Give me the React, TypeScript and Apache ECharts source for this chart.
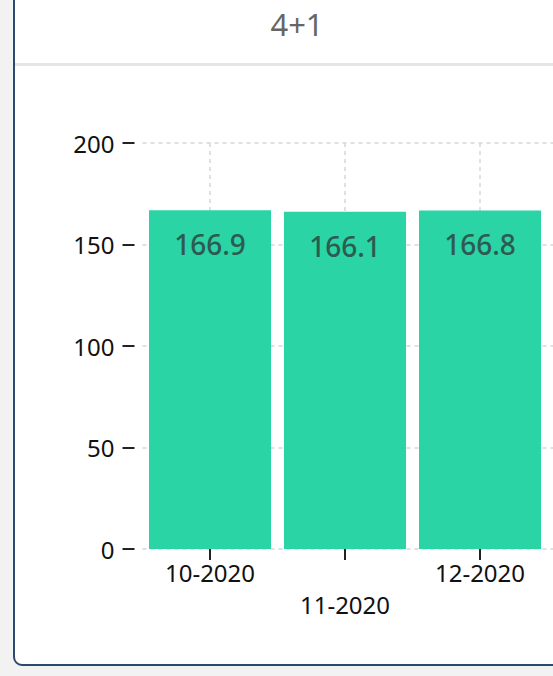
import React, { useEffect, useRef } from "react";
import * as echarts from "echarts";

const title = "4+1";
const categories = ["10-2020", "11-2020", "12-2020", "01-2021"];
const values: (number | null)[] = [166.9, 166.1, 166.8, null];
const yMin = 0;
const yMax = 200;
const yInterval = 50;

export default function App() {
  const ref = useRef<HTMLDivElement>(null);
  useEffect(() => {
    if (!ref.current) return;
    const chart = echarts.init(ref.current, undefined, { renderer: "svg" });
    const font = "'Noto Sans', 'Open Sans', sans-serif";
    chart.setOption({
      animation: false,
      textStyle: { fontFamily: font },
      graphic: [
        {
          type: "text",
          x: 282,
          y: 34,
          style: {
            text: title,
            fontSize: 31,
            fill: "#666666",
            fontFamily: font,
            align: "center",
            verticalAlign: "middle",
          },
        },
        {
          type: "rect",
          shape: { x: 0, y: 73, width: 760, height: 3 },
          style: { fill: "#e5e5e5" },
        },
      ],
      grid: { left: 127.5, top: 153, width: 540, height: 406 },
      xAxis: {
        type: "category",
        data: categories,
        axisLine: { show: false },
        axisTick: {
          show: true,
          alignWithLabel: true,
          length: 11,
          lineStyle: { color: "#222", width: 2 },
        },
        splitLine: {
          show: true,
          alignWithLabel: true,
          lineStyle: { color: "#d6d6d6", type: [4, 4], width: 1.5 },
        },
        axisLabel: {
          interval: 0,
          margin: 7,
          fontSize: 24,
          color: "#111",
          lineHeight: 32,
          fontFamily: font,
          formatter: (v: string, i: number) =>
            values[i] == null ? "" : i % 2 === 1 ? "\n" + v : v,
        },
      },
      yAxis: {
        type: "value",
        min: yMin,
        max: yMax,
        interval: yInterval,
        offset: 8,
        axisLine: { show: false },
        axisTick: {
          show: true,
          length: 12,
          lineStyle: { color: "#222", width: 2 },
        },
        splitLine: {
          show: true,
          lineStyle: { color: "#d6d6d6", type: [4, 4], width: 1.5 },
        },
        axisLabel: {
          margin: 20,
          fontSize: 24,
          color: "#111",
          fontFamily: font,
        },
      },
      series: [
        {
          type: "bar",
          data: values,
          barCategoryGap: "9.6%",
          itemStyle: { color: "#2ad4a5" },
          label: {
            show: true,
            position: "insideTop",
            distance: 20,
            fontSize: 28,
            fontWeight: 500,
            color: "#2d5b51",
            fontFamily: font,
            formatter: (p: any) => Number(p.value).toFixed(1),
          },
        },
      ],
    });
    return () => chart.dispose();
  }, []);

  return (
    <div
      style={{
        position: "fixed",
        left: 0,
        top: 0,
        width: 553,
        height: 676,
        overflow: "hidden",
        background: "#f2f2f2",
      }}
    >
      <div
        style={{
          position: "absolute",
          left: 13,
          top: -12,
          width: 760,
          height: 678,
          boxSizing: "border-box",
          border: "2px solid #2b4a6d",
          borderRadius: 9,
          background: "#fff",
          overflow: "hidden",
        }}
      >
        <div ref={ref} style={{ width: 756, height: 674 }} />
      </div>
    </div>
  );
}
